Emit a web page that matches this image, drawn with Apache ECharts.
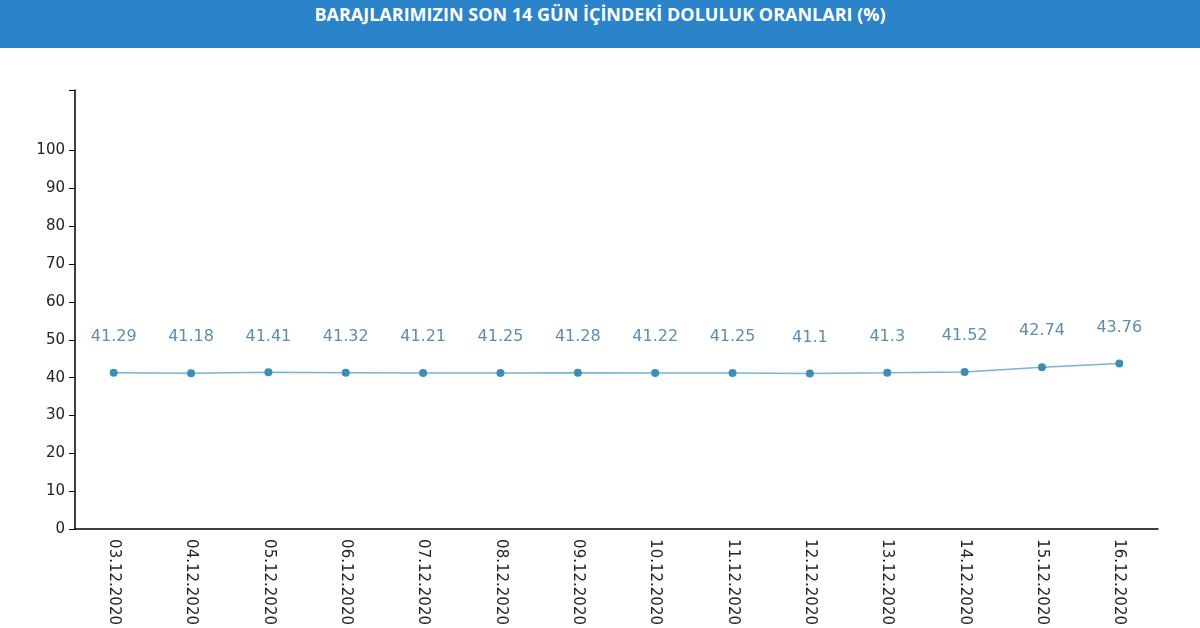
<!DOCTYPE html>
<html>
<head>
<meta charset="utf-8">
<script src="https://cdn.jsdelivr.net/npm/echarts@6/dist/echarts.min.js"></script>
<style>
  html, body { margin: 0; padding: 0; background: #fff; overflow: hidden; }
  #bar { height: 48px; background: #2b83c9; color: #fff; font: bold 18px "Open Sans", sans-serif; text-align: center; line-height: 28px; }
  #chart { width: 1200px; height: 580px; }
</style>
</head>
<body>
<div id="bar">BARAJLARIMIZIN SON 14 GÜN İÇİNDEKİ DOLULUK ORANLARI (%)</div>
<div id="chart"></div>
<script>
var dates = ['03.12.2020', '04.12.2020', '05.12.2020', '06.12.2020', '07.12.2020', '08.12.2020', '09.12.2020',
    '10.12.2020', '11.12.2020', '12.12.2020', '13.12.2020', '14.12.2020', '15.12.2020', '16.12.2020'];
var values = [41.29, 41.18, 41.41, 41.32, 41.21, 41.25, 41.28, 41.22, 41.25, 41.1, 41.3, 41.52, 42.74, 43.76];
var yTicks = [0, 10, 20, 30, 40, 50, 60, 70, 80, 90, 100];

var myChart = echarts.init(document.getElementById('chart'));
var option = {
    animation: false,
    grid: { left: 75, right: 42, top: 42, bottom: 85 },
    xAxis: {
        type: 'category',
        data: dates,
        axisLine: { lineStyle: { color: '#000', width: 1.5 } },
        axisTick: { alignWithLabel: true, length: 6, lineStyle: { color: '#000' } },
        axisLabel: { rotate: -90, color: '#222', fontSize: 15, fontFamily: 'DejaVu Sans', margin: 10 }
    },
    yAxis: {
        type: 'value',
        min: 0,
        max: 116,
        axisLine: { show: true, lineStyle: { color: '#000', width: 1.5 } },
        axisTick: { show: true, length: 6, customValues: yTicks.concat([116]), lineStyle: { color: '#000' } },
        axisLabel: { customValues: yTicks, color: '#222', fontSize: 15, fontFamily: 'DejaVu Sans', margin: 10 },
        splitLine: { show: false }
    },
    series: [{
        type: 'line',
        data: values,
        symbol: 'circle',
        symbolSize: 8,
        lineStyle: { color: '#7ab3d3', width: 1.5 },
        itemStyle: { color: '#3d8db5' },
        label: { show: true, position: 'top', distance: 24, color: '#5a8eab', fontSize: 16, fontFamily: 'DejaVu Sans' }
    }]
};
myChart.setOption(option);
</script>
</body>
</html>
